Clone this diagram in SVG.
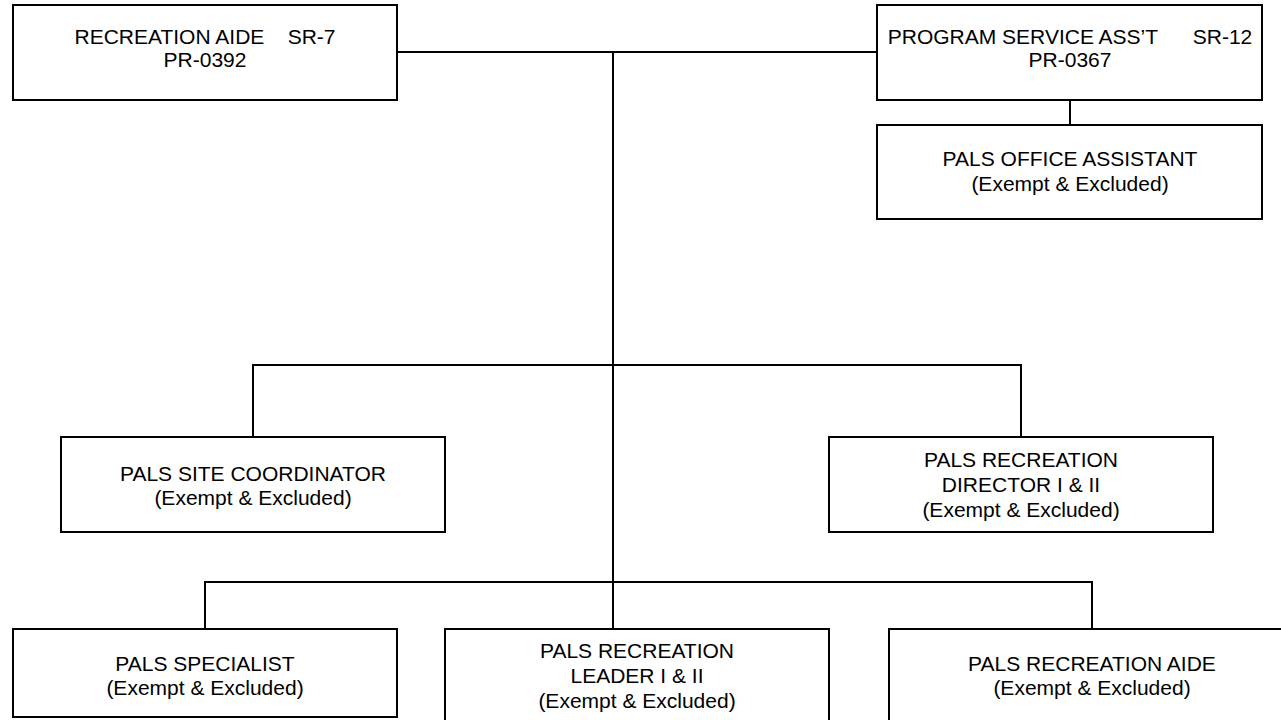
<svg xmlns="http://www.w3.org/2000/svg" width="1281" height="720" viewBox="0 0 1281 720">
<style>
.box{fill:#fff;stroke:#000;stroke-width:2}
.ln{fill:none;stroke:#000;stroke-width:2}
text{font-family:"Liberation Sans",Arial,sans-serif;font-size:21px;fill:#000;text-anchor:middle}
</style>
<rect width="1281" height="720" fill="#fff"/>
<g id="connectors">
<line class="ln" x1="397" y1="52" x2="877" y2="52"/>
<line class="ln" x1="613" y1="52" x2="613" y2="629"/>
<line class="ln" x1="1070" y1="100" x2="1070" y2="125"/>
<polyline class="ln" points="253,437 253,365 1021,365 1021,437"/>
<polyline class="ln" points="205,629 205,582 1092,582 1092,629"/>
</g>
<g id="recreation-aide">
<rect class="box" x="13" y="5" width="384" height="95"/>
<text x="205" y="44" xml:space="preserve">RECREATION AIDE    SR-7</text>
<text x="205" y="67">PR-0392</text>
</g>
<g id="program-service-asst">
<rect class="box" x="877" y="5" width="385" height="95"/>
<text x="1070" y="44" xml:space="preserve">PROGRAM SERVICE ASS’T      SR-12</text>
<text x="1070" y="67">PR-0367</text>
</g>
<g id="pals-office-assistant">
<rect class="box" x="877" y="125" width="385" height="94"/>
<text x="1070" y="166">PALS OFFICE ASSISTANT</text>
<text x="1070" y="191">(Exempt &amp; Excluded)</text>
</g>
<g id="pals-site-coordinator">
<rect class="box" x="61" y="437" width="384" height="95"/>
<text x="253" y="481">PALS SITE COORDINATOR</text>
<text x="253" y="505">(Exempt &amp; Excluded)</text>
</g>
<g id="pals-recreation-director">
<rect class="box" x="829" y="437" width="384" height="95"/>
<text x="1021" y="467">PALS RECREATION</text>
<text x="1021" y="492">DIRECTOR I &amp; II</text>
<text x="1021" y="517">(Exempt &amp; Excluded)</text>
</g>
<g id="pals-specialist">
<rect class="box" x="13" y="629" width="384" height="88"/>
<text x="205" y="671">PALS SPECIALIST</text>
<text x="205" y="695">(Exempt &amp; Excluded)</text>
</g>
<g id="pals-recreation-leader">
<rect class="box" x="445" y="629" width="384" height="95"/>
<text x="637" y="658">PALS RECREATION</text>
<text x="637" y="683">LEADER I &amp; II</text>
<text x="637" y="708">(Exempt &amp; Excluded)</text>
</g>
<g id="pals-recreation-aide">
<rect class="box" x="889" y="629" width="400" height="95"/>
<text x="1092" y="671">PALS RECREATION AIDE</text>
<text x="1092" y="695">(Exempt &amp; Excluded)</text>
</g>
</svg>
